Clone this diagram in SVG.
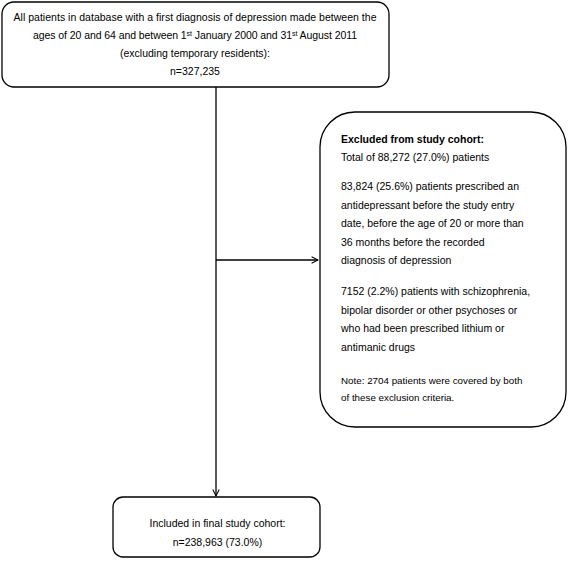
<svg xmlns="http://www.w3.org/2000/svg" width="568" height="566" viewBox="0 0 568 566">
<style>
  .box { fill: #ffffff; stroke: #000000; stroke-width: 1.3; }
  .t { font-family: "Liberation Sans", Arial, sans-serif; font-size: 10.5px; fill: #000000; }
  .c { text-anchor: middle; }
  .b { font-weight: bold; }
  .s { font-size: 9.8px; }
  .sup { font-size: 7px; }
  .edge { fill: none; stroke: #000000; stroke-width: 1.3; }
</style>
<defs>
  <marker id="arr" viewBox="0 0 10 10" refX="9" refY="5" markerWidth="8" markerHeight="8" markerUnits="userSpaceOnUse" orient="auto">
    <path d="M1,1 L9,5 L1,9" fill="none" stroke="#000000" stroke-width="1.3"/>
  </marker>
</defs>
<rect width="568" height="566" fill="#ffffff"/>
<g id="connectors">
  <line class="edge" x1="216" y1="87" x2="216" y2="496" marker-end="url(#arr)"/>
  <line class="edge" x1="216" y1="260" x2="318" y2="260" marker-end="url(#arr)"/>
</g>
<g id="node-all">
  <rect class="box" x="2" y="2" width="387" height="85" rx="12"/>
  <text class="t c" x="195" y="21" textLength="363" lengthAdjust="spacing">All patients in database with a first diagnosis of depression made between the</text>
  <text class="t c" x="195" y="39" textLength="324" lengthAdjust="spacing">ages of 20 and 64 and between 1<tspan class="sup" baseline-shift="super">st</tspan> January 2000 and 31<tspan class="sup" baseline-shift="super">st</tspan> August 2011</text>
  <text class="t c" x="195" y="57">(excluding temporary residents):</text>
  <text class="t c" x="195" y="75">n=327,235</text>
</g>
<g id="node-excluded">
  <rect class="box" x="320" y="112" width="246" height="315" rx="35"/>
  <text class="t b" x="341" y="143">Excluded from study cohort:</text>
  <text class="t" x="341" y="161">Total of 88,272 (27.0%) patients</text>
  <text class="t" x="341" y="190">83,824 (25.6%) patients prescribed an</text>
  <text class="t" x="341" y="208.5">antidepressant before the study entry</text>
  <text class="t" x="341" y="227">date, before the age of 20 or more than</text>
  <text class="t" x="341" y="245.5">36 months before the recorded</text>
  <text class="t" x="341" y="264">diagnosis of depression</text>
  <text class="t" x="341" y="295">7152 (2.2%) patients with schizophrenia,</text>
  <text class="t" x="341" y="313.5">bipolar disorder or other psychoses or</text>
  <text class="t" x="341" y="332">who had been prescribed lithium or</text>
  <text class="t" x="341" y="350.5">antimanic drugs</text>
  <text class="t s" x="341" y="384">Note: 2704 patients were covered by both</text>
  <text class="t s" x="341" y="401">of these exclusion criteria.</text>
</g>
<g id="node-included">
  <rect class="box" x="113" y="497" width="207" height="60" rx="10"/>
  <text class="t c" x="217.5" y="527">Included in final study cohort:</text>
  <text class="t c" x="217.5" y="546">n=238,963 (73.0%)</text>
</g>
</svg>
